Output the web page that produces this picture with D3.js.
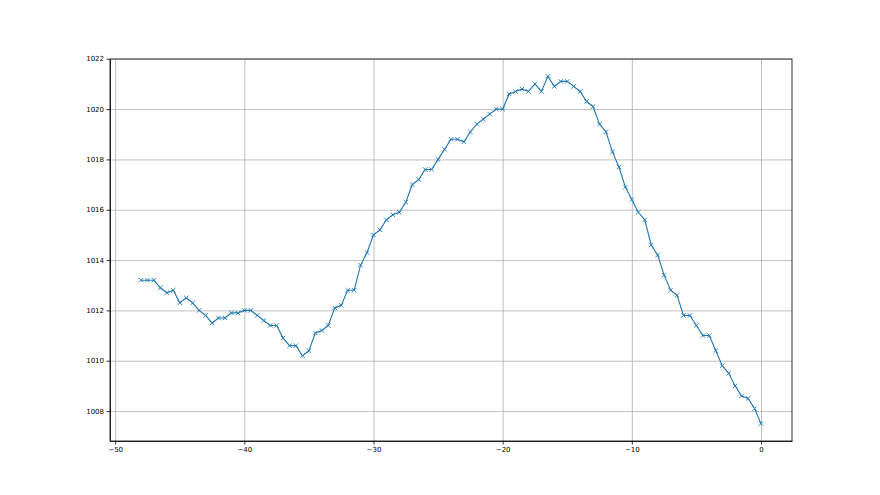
<!DOCTYPE html>
<html>
<head>
<meta charset="utf-8">
<script src="https://cdn.jsdelivr.net/npm/d3@7"></script>
<style>
    body { margin: 0; background: #fff; }
    .grid line { stroke: #b0b0b0; stroke-width: 0.8; }
    .grid .domain { display: none; }
    .axis text { font-family: "DejaVu Sans", sans-serif; font-size: 7px; fill: #000; }
    .axis line, .axis path { stroke: #000; stroke-width: 0.8; }
</style>
</head>
<body>
<div id="chart"></div>
<script>
const W = 880, H = 495;
const margin = { top: 59, right: 88, bottom: 54, left: 110 };
const width = W - margin.left - margin.right;
const height = H - margin.top - margin.bottom;

// x positions: -48 .. 0 in half steps
const xValues = [
    -48, -47.5, -47, -46.5, -46, -45.5, -45, -44.5, -44, -43.5, -43, -42.5, -42, -41.5, -41, -40.5,
    -40, -39.5, -39, -38.5, -38, -37.5, -37, -36.5, -36, -35.5, -35, -34.5, -34, -33.5, -33, -32.5,
    -32, -31.5, -31, -30.5, -30, -29.5, -29, -28.5, -28, -27.5, -27, -26.5, -26, -25.5, -25, -24.5,
    -24, -23.5, -23, -22.5, -22, -21.5, -21, -20.5, -20, -19.5, -19, -18.5, -18, -17.5, -17, -16.5,
    -16, -15.5, -15, -14.5, -14, -13.5, -13, -12.5, -12, -11.5, -11, -10.5, -10, -9.5, -9, -8.5,
    -8, -7.5, -7, -6.5, -6, -5.5, -5, -4.5, -4, -3.5, -3, -2.5, -2, -1.5, -1, -0.5, 0
];

const pressure = [
    1013.2, 1013.2, 1013.2, 1012.9, 1012.7, 1012.8, 1012.3, 1012.5, 1012.3, 1012.0, 1011.8, 1011.5, 1011.7, 1011.7, 1011.9, 1011.9,
    1012.0, 1012.0, 1011.8, 1011.6, 1011.4, 1011.4, 1010.9, 1010.6, 1010.6, 1010.2, 1010.4, 1011.1, 1011.2, 1011.4, 1012.1, 1012.2,
    1012.8, 1012.8, 1013.8, 1014.3, 1015.0, 1015.2, 1015.6, 1015.8, 1015.9, 1016.3, 1017.0, 1017.2, 1017.6, 1017.6, 1018.0, 1018.4,
    1018.8, 1018.8, 1018.7, 1019.1, 1019.4, 1019.6, 1019.8, 1020.0, 1020.0, 1020.6, 1020.7, 1020.8, 1020.7, 1021.0, 1020.7, 1021.3,
    1020.9, 1021.1, 1021.1, 1020.9, 1020.7, 1020.3, 1020.1, 1019.4, 1019.1, 1018.3, 1017.7, 1016.9, 1016.4, 1015.9, 1015.6, 1014.6,
    1014.2, 1013.4, 1012.8, 1012.6, 1011.8, 1011.8, 1011.4, 1011.0, 1011.0, 1010.4, 1009.8, 1009.5, 1009.0, 1008.6, 1008.5, 1008.1, 1007.5
];

const xTicks = [-50, -40, -30, -20, -10, 0];
const yTicks = [1008, 1010, 1012, 1014, 1016, 1018, 1020, 1022];

const data = xValues.map((x, i) => ({ x, y: pressure[i] }));

// matplotlib-like 5% margins
const [x0, x1] = d3.extent(xValues);
const [y0, y1] = d3.extent(pressure);
const xPad = (x1 - x0) * 0.05, yPad = (y1 - y0) * 0.05;

const xScale = d3.scaleLinear().domain([x0 - xPad, x1 + xPad]).range([0, width]);
const yScale = d3.scaleLinear().domain([y0 - yPad, y1 + yPad]).range([height, 0]);

const fmt = d => d < 0 ? "\u2212" + Math.abs(d) : String(d);

const svg = d3.select("#chart")
    .append("svg")
    .attr("width", W)
    .attr("height", H)
    .append("g")
    .attr("transform", `translate(${margin.left}, ${margin.top})`);

// grid
svg.append("g")
    .attr("class", "grid")
    .attr("transform", `translate(0, ${height})`)
    .call(d3.axisBottom(xScale).tickValues(xTicks).tickSize(-height).tickFormat(""));

svg.append("g")
    .attr("class", "grid")
    .call(d3.axisLeft(yScale).tickValues(yTicks).tickSize(-width).tickFormat(""));

// line
const line = d3.line().x(d => xScale(d.x)).y(d => yScale(d.y));

svg.append("path")
    .datum(data)
    .attr("fill", "none")
    .attr("stroke", "#1f77b4")
    .attr("stroke-width", 1.1)
    .attr("d", line);

// x markers
const m = 2.2;
svg.selectAll("path.marker")
    .data(data)
    .join("path")
    .attr("class", "marker")
    .attr("fill", "none")
    .attr("stroke", "#1f77b4")
    .attr("stroke-width", 0.9)
    .attr("d", d => {
        const cx = xScale(d.x), cy = yScale(d.y);
        return `M${cx - m},${cy - m}L${cx + m},${cy + m}M${cx - m},${cy + m}L${cx + m},${cy - m}`;
    });

// axes
svg.append("g")
    .attr("class", "axis")
    .attr("transform", `translate(0, ${height})`)
    .call(d3.axisBottom(xScale).tickValues(xTicks).tickSize(3.5).tickSizeOuter(0).tickPadding(2.5).tickFormat(fmt));

svg.append("g")
    .attr("class", "axis")
    .call(d3.axisLeft(yScale).tickValues(yTicks).tickSize(3.5).tickSizeOuter(0).tickPadding(2.5).tickFormat(fmt));

// frame
svg.append("rect")
    .attr("width", width)
    .attr("height", height)
    .attr("fill", "none")
    .attr("stroke", "#000")
    .attr("stroke-width", 0.8);
</script>
</body>
</html>
